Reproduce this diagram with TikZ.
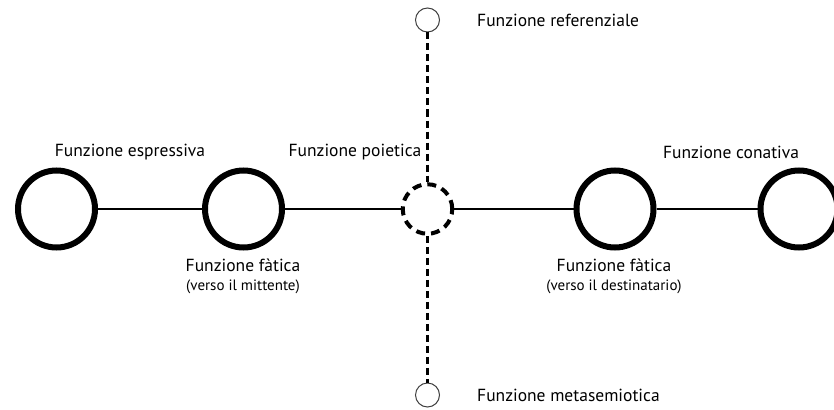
\documentclass[tikz,border=0pt]{standalone}
\usepackage{fontspec}
\setmainfont{PT Sans}
\begin{document}
\begin{tikzpicture}[x=1pt,y=-1pt,
  bigc/.style={circle,draw,line width=6pt,minimum size=77pt,inner sep=0pt},
  poic/.style={circle,draw,line width=4pt,dash pattern=on 9pt off 6pt,minimum size=49.5pt,inner sep=0pt},
  smallc/.style={circle,draw=black!75,line width=1pt,minimum size=24pt,inner sep=0pt},
  link/.style={line width=2.2pt},
  dlink/.style={line width=2.4pt,dash pattern=on 7pt off 4pt},
  lab/.style={font=\fontsize{17.5}{19}\selectfont,inner sep=0pt},
  sub/.style={font=\fontsize{15}{17}\selectfont,inner sep=0pt}]
\useasboundingbox (0,0) rectangle (834,409);
\node[bigc] (esp) at (56.5,209) {};
\node[bigc] (fl) at (243.5,209) {};
\node[poic] (poi) at (427.5,209) {};
\node[bigc] (fr) at (615,209) {};
\node[bigc] (con) at (799,209) {};
\node[smallc] (ref) at (427.5,20) {};
\node[smallc] (meta) at (427.5,395) {};
\draw[link] (esp) -- (fl);
\draw[link] (fl) -- (poi);
\draw[link] (poi) -- (fr);
\draw[link] (fr) -- (con);
\draw[dlink] (ref) -- (poi);
\draw[dlink] (poi) -- (meta);
\node[lab] (tesp) at (130,152) {Funzione espressiva};
\node[lab] (tpoi) at (355,152) {Funzione poietica};
\node[lab] (tcon) at (731,152) {Funzione conativa};
\node[lab] (tfl) at (243,265) {Funzione fàtica};
\node[sub] (tfl2) at (243,287) {(verso il mittente)};
\node[lab] (tfr) at (614,265) {Funzione fàtica};
\node[sub] (tfr2) at (614,287) {(verso il destinatario)};
\node[lab,anchor=west] (tref) at (477,20) {Funzione referenziale};
\node[lab,anchor=west] (tmeta) at (477,395) {Funzione metasemiotica};
\end{tikzpicture}
\end{document}
